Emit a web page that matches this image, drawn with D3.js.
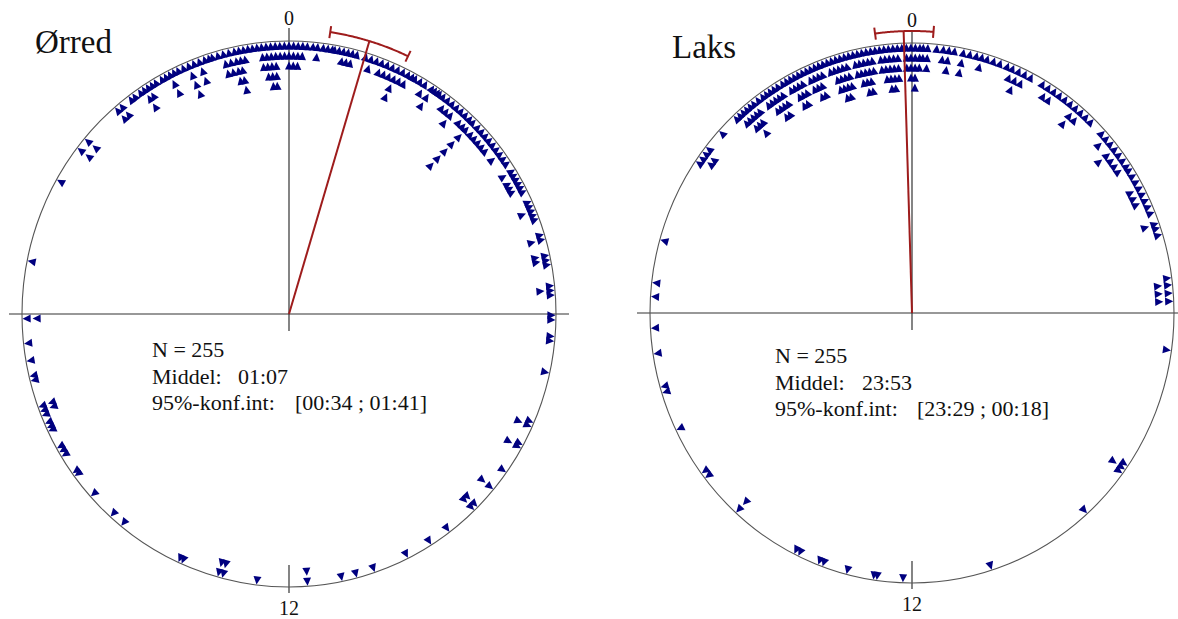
<!DOCTYPE html>
<html>
<head>
<meta charset="utf-8">
<script src="https://cdn.jsdelivr.net/npm/d3@7"></script>
<style>
  html, body { margin: 0; padding: 0; background: #fff; }
  svg { display: block; }
  text { font-family: "Liberation Serif", "Times New Roman", serif; fill: #111; }
</style>
</head>
<body>
<svg id="chart" width="1178" height="619"></svg>
<script>
// Observation times (clock time, number of fish recorded at that time)
const orredStacks = [
  ["19:58",1],["18:45",1],["17:56",2],["17:35",1],["17:20",1],["17:07",1],["17:03",1],
  ["16:40",2],["16:36",2],["16:32",1],["16:25",1],["16:21",1],["16:18",1],
  ["16:02",1],["15:58",1],["15:54",1],["15:37",1],["15:34",1],["15:12",1],
  ["14:48",1],["14:36",1],["13:38",1],["13:35",1],["13:02",2],["12:58",2],["12:28",1],
  ["11:44",2],["11:14",1],["11:01",1],["10:45",1],["10:14",1],["09:51",1],["09:32",1],
  ["09:04",2],["09:00",2],["08:40",2],["08:22",1],["07:58",2],["07:55",1],
  ["07:38",2],["07:34",1],["06:50",1],
  ["06:23",1],["06:19",1],["06:05",1],["06:01",1],["05:44",1],["05:40",2],["05:36",1],
  ["05:18",1],["05:14",2],["05:10",2],["04:56",2],["04:52",1],
  ["04:38",1],["04:34",1],["04:30",2],["04:26",1],["04:22",1],
  ["04:12",1],["04:08",2],["04:04",2],["04:00",2],["03:56",1],["03:52",2],
  ["03:44",1],["03:39",1],["03:34",2],["03:29",1],["03:24",2],["03:19",2],
  ["03:14",2],["03:09",2],["03:04",2],["02:58",7],
  ["02:54",2],["02:49",2],["02:44",1],["02:39",3],["02:34",2],["02:29",2],["02:24",1],["02:20",1],
  ["02:18",1],["02:15",1],["02:12",3],["02:05",2],["02:00",1],["01:55",1],["01:52",1],
  ["01:48",2],["01:43",2],["01:38",4],["01:33",2],["01:28",2],["01:23",2],
  ["01:18",1],["01:13",2],["01:08",1],["01:00",1],["00:56",2],["00:52",2],["00:48",2],["00:44",1],
  ["00:40",1],["00:38",1],["00:34",1],["00:30",1],["00:25",2],["00:21",1],
  ["00:16",1],["00:12",2],["00:08",3],["00:04",3],["00:00",3],["23:56",2],
  ["23:52",2],["23:48",5],["23:44",5],["23:40",4],["23:36",3],["23:32",1],["23:28",1],
  ["23:24",1],["23:20",2],["23:16",5],["23:12",4],["23:07",3],["23:02",3],["22:57",1],
  ["22:52",1],["22:49",1],["22:45",1],["22:40",3],["22:35",1],["22:30",4],["22:25",1],
  ["22:20",1],["22:16",1],["22:12",3],["22:08",1],["22:04",1],
  ["21:58",1],["21:54",1],["21:50",2],["21:46",3],["21:42",1],
  ["21:36",1],["21:32",1],["21:22",2],["21:17",2],["20:40",2],["20:30",2]
];

const laksStacks = [
  ["19:03",1],["18:26",1],["18:14",1],["17:47",1],["17:25",1],["16:56",1],["16:51",1],
  ["16:17",1],["15:34",1],["15:29",1],["14:49",2],["13:47",1],["13:43",1],
  ["13:24",1],["13:20",1],["12:58",1],["12:34",1],["12:31",1],["12:08",1],
  ["10:49",1],["09:12",1],["08:26",1],["08:22",2],["08:18",1],["06:32",1],
  ["05:50",2],["05:43",2],["05:36",2],["05:30",1],["04:52",1],["04:46",1],["04:42",2],
  ["04:32",1],["04:26",1],["04:20",2],["04:14",2],["04:08",2],["04:02",1],["03:56",1],
  ["03:50",1],["03:46",2],["03:40",2],["03:34",2],["03:28",3],["03:22",1],["03:16",2],["03:10",1],
  ["02:56",1],["02:50",1],["02:44",2],["02:38",3],["02:32",1],["02:26",1],
  ["02:20",1],["02:14",2],["02:08",2],["02:02",1],["01:50",1],
  ["01:44",2],["01:38",3],["01:32",2],["01:27",1],["01:20",1],["01:14",1],
  ["01:08",1],["01:03",2],["00:58",1],["00:52",1],["00:46",3],["00:38",1],
  ["00:33",3],["00:28",2],["00:22",1],["00:14",3],["00:10",2],
  ["00:07",3],["00:03",5],["23:59",4],["23:55",3],["23:51",1],
  ["23:47",4],["23:43",5],["23:39",5],["23:35",4],["23:31",3],["23:27",1],
  ["23:23",3],["23:19",5],["23:15",5],["23:11",4],["23:07",3],["23:03",1],
  ["22:59",4],["22:55",5],["22:51",5],["22:47",4],["22:43",2],["22:39",1],
  ["22:35",2],["22:31",4],["22:27",4],["22:23",3],["22:19",1],
  ["22:15",3],["22:11",4],["22:07",4],["22:03",2],["21:59",1],
  ["21:54",3],["21:50",4],["21:46",4],["21:42",3],["21:38",2],["21:33",1],
  ["21:28",2],["21:24",3],["21:20",4],["21:16",3],["21:12",2],["21:08",1],
  ["20:50",1],["20:32",1],["20:27",2],["20:22",2],["20:17",1]
];

// Panel titles and summary statistics
const panelTitles = ["Ørred", "Laks"];
const sampleSizes = [255, 255];
const meanTimes = ["01:07", "23:53"];
const ciLower = ["00:34", "23:29"];
const ciUpper = ["01:41", "00:18"];
const axisLabels = ["0", "12"];

const panels = [
  { cx: 289, cy: 314, rx: 267, ry: 273, stacks: orredStacks,
    titleX: 35, titleY: 53, statX: 152, valX: 238, ciX: 295, statY: 357 },
  { cx: 912, cy: 313, rx: 262, ry: 270, stacks: laksStacks,
    titleX: 672, titleY: 58, statX: 775, valX: 862, ciX: 917, statY: 363 }
];

const svg = d3.select("#chart");
const toHours = s => { const [h, m] = s.split(":").map(Number); return h + m / 60; };
// Clock time to angle, clockwise from the top
const angle = d3.scaleLinear().domain([0, 24]).range([0, 2 * Math.PI]);
// Stack position (0 = outermost) to inward distance from the rim, in px
const stackDepth = d3.scaleLinear().domain([0, 1]).range([5, 15]);

const markerColor = "#00007f";
const meanColor = "#9e1c1c";
const axisColor = "#333";

panels.forEach((p, i) => {
  const g = svg.append("g");
  const pt = (h, inset) => {
    const a = angle(h);
    return [p.cx + (p.rx - inset) * Math.sin(a), p.cy - (p.ry - inset) * Math.cos(a)];
  };

  // axes
  g.append("line").attr("x1", p.cx - p.rx - 13).attr("x2", p.cx + p.rx + 13)
    .attr("y1", p.cy).attr("y2", p.cy).attr("stroke", axisColor).attr("stroke-width", 1.2);
  g.append("line").attr("x1", p.cx).attr("x2", p.cx)
    .attr("y1", p.cy - p.ry - 13).attr("y2", p.cy + 17).attr("stroke", axisColor).attr("stroke-width", 1.2);
  g.append("line").attr("x1", p.cx).attr("x2", p.cx)
    .attr("y1", p.cy + p.ry - 22).attr("y2", p.cy + p.ry + 6).attr("stroke", axisColor).attr("stroke-width", 1.2);

  // rim
  g.append("ellipse").attr("cx", p.cx).attr("cy", p.cy).attr("rx", p.rx).attr("ry", p.ry)
    .attr("fill", "none").attr("stroke", "#555").attr("stroke-width", 1.1);

  // axis labels
  g.append("text").attr("x", p.cx).attr("y", p.cy - p.ry - 16).attr("text-anchor", "middle")
    .attr("font-size", 20).text(axisLabels[0]);
  g.append("text").attr("x", p.cx).attr("y", p.cy + p.ry + 28).attr("text-anchor", "middle")
    .attr("font-size", 20).text(axisLabels[1]);

  // stacked markers
  const marks = [];
  p.stacks.forEach(([t, n]) => {
    for (let k = 0; k < n; k++) marks.push({ h: toHours(t), k });
  });
  g.append("g").selectAll("path").data(marks).join("path")
    .attr("d", "M0,-4.5L4,3.6L-4,3.6Z")
    .attr("fill", markerColor)
    .attr("transform", d => {
      const [x, y] = pt(d.h, stackDepth(d.k));
      return `translate(${x},${y}) rotate(${angle(d.h) * 180 / Math.PI})`;
    });

  // mean direction and 95% confidence arc
  const arcInset = -12;
  const mean = toHours(meanTimes[i]);
  const [mx, my] = pt(mean, arcInset);
  g.append("line").attr("x1", p.cx).attr("y1", p.cy).attr("x2", mx).attr("y2", my)
    .attr("stroke", meanColor).attr("stroke-width", 2);
  let lo = toHours(ciLower[i]), hi = toHours(ciUpper[i]);
  if (hi < lo) lo -= 24;
  const arcHours = d3.range(0, 61).map(j => lo + (hi - lo) * j / 60);
  g.append("path").attr("d", d3.line()(arcHours.map(h => pt(h, arcInset))))
    .attr("fill", "none").attr("stroke", meanColor).attr("stroke-width", 2);
  [lo, hi].forEach(h => {
    const [x1, y1] = pt(h, arcInset - 6), [x2, y2] = pt(h, arcInset + 6);
    g.append("line").attr("x1", x1).attr("y1", y1).attr("x2", x2).attr("y2", y2)
      .attr("stroke", meanColor).attr("stroke-width", 2);
  });

  // title and statistics
  g.append("text").attr("x", p.titleX).attr("y", p.titleY).attr("font-size", 33).text(panelTitles[i]);
  const lh = 26.7, fs = 22;
  g.append("text").attr("x", p.statX).attr("y", p.statY).attr("font-size", fs).text(`N = ${sampleSizes[i]}`);
  g.append("text").attr("x", p.statX).attr("y", p.statY + lh).attr("font-size", fs).text("Middel:");
  g.append("text").attr("x", p.valX).attr("y", p.statY + lh).attr("font-size", fs).text(meanTimes[i]);
  g.append("text").attr("x", p.statX).attr("y", p.statY + 2 * lh).attr("font-size", fs).text("95%-konf.int:");
  g.append("text").attr("x", p.ciX).attr("y", p.statY + 2 * lh).attr("font-size", fs)
    .text(`[${ciLower[i]} ; ${ciUpper[i]}]`);
});
</script>
</body>
</html>
